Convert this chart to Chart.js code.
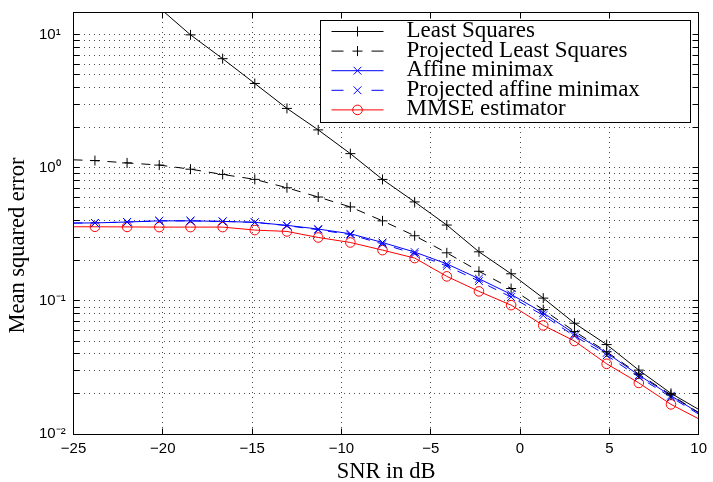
<!DOCTYPE html>
<html>
<head>
<meta charset="utf-8">
<script src="https://cdn.jsdelivr.net/npm/chart.js@4/dist/chart.umd.min.js"></script>
<style>
html, body { margin: 0; padding: 0; background: #fff; }
#wrap { width: 713px; height: 482px; }
</style>
</head>
<body>
<div id="wrap"><canvas id="mse" width="713" height="482"></canvas></div>
<script>
// SNR (dB) where the curves are sampled; first and last sample carry no marker
var snr = [-25, -23.8, -22.0, -20.2, -18.45, -16.65, -14.85, -13.05, -11.3, -9.5, -7.7, -5.9, -4.1, -2.3, -0.5, 1.3, 3.05, 4.85, 6.65, 8.45, 10];

var leastSquares    = [46, 35, 23, 16, 10.0, 6.62, 4.31, 2.80, 1.93, 1.28, 0.819, 0.555, 0.372, 0.234, 0.160, 0.105, 0.068, 0.047, 0.0302, 0.0202, 0.0153];
var projectedLS     = [1.15, 1.135, 1.09, 1.05, 0.978, 0.893, 0.82, 0.709, 0.604, 0.509, 0.400, 0.309, 0.230, 0.167, 0.124, 0.086, 0.059, 0.0415, 0.0282, 0.0197, 0.0145];
var affineMinimax   = [0.385, 0.386, 0.392, 0.40, 0.40, 0.396, 0.39, 0.370, 0.347, 0.320, 0.275, 0.233, 0.190, 0.147, 0.112, 0.0813, 0.0568, 0.0407, 0.0277, 0.0194, 0.0144];
var projectedAffine = [0.385, 0.386, 0.392, 0.40, 0.40, 0.396, 0.39, 0.368, 0.343, 0.315, 0.268, 0.226, 0.183, 0.141, 0.107, 0.078, 0.0545, 0.039, 0.0268, 0.0189, 0.0141];
var mmse            = [0.361, 0.361, 0.360, 0.359, 0.359, 0.359, 0.341, 0.333, 0.300, 0.275, 0.241, 0.210, 0.153, 0.118, 0.093, 0.0655, 0.050, 0.0337, 0.0242, 0.0167, 0.0130];

var labels = ["Least Squares", "Projected Least Squares", "Affine minimax", "Projected affine minimax", "MMSE estimator"];

var xTicks = [-25, -20, -15, -10, -5, 0, 5, 10];
var xTickLabels = ["\u221225", "\u221220", "\u221215", "\u221210", "\u22125", "0", "5", "10"];
var yDecades = [0.01, 0.1, 1, 10];
var yTickLabels = ["10\u207B\u00B2", "10\u207B\u00B9", "10\u2070", "10\u00B9"];

var series = [leastSquares, projectedLS, affineMinimax, projectedAffine, mmse];
var styles = [
    {color: "#000000", dash: [], marker: "cross", r: 5},
    {color: "#000000", dash: [9, 8], marker: "cross", r: 5},
    {color: "#0000ff", dash: [], marker: "crossRot", r: 5.5},
    {color: "#0000ff", dash: [9, 8], marker: "crossRot", r: 5.5},
    {color: "#ff0000", dash: [], marker: "circle", r: 4.8}
];

var datasets = series.map(function (vals, i) {
    var st = styles[i];
    return {
        label: labels[i],
        data: vals.map(function (v, j) { return {x: snr[j], y: v}; }),
        borderColor: st.color,
        borderWidth: 1,
        borderDash: st.dash,
        pointStyle: st.marker,
        pointRadius: function (ctx) {
            return (ctx.dataIndex === 0 || ctx.dataIndex === snr.length - 1) ? 0 : st.r;
        },
        pointBorderColor: st.color,
        pointBackgroundColor: "rgba(0,0,0,0)",
        pointBorderWidth: 1,
        fill: false,
        tension: 0
    };
});

function drawMarker(ctx, style, x, y, r) {
    ctx.beginPath();
    if (style === "cross") {
        ctx.moveTo(x - r, y); ctx.lineTo(x + r, y);
        ctx.moveTo(x, y - r); ctx.lineTo(x, y + r);
    } else if (style === "crossRot") {
        var d = r * Math.SQRT1_2;
        ctx.moveTo(x - d, y - d); ctx.lineTo(x + d, y + d);
        ctx.moveTo(x - d, y + d); ctx.lineTo(x + d, y - d);
    } else {
        ctx.arc(x, y, r, 0, 2 * Math.PI);
    }
    ctx.stroke();
}

// box round the axes, inward ticks on all sides, and the boxed legend
var frame = {
    id: "frame",
    afterDraw: function (chart) {
        var ctx = chart.ctx, a = chart.chartArea;
        var xs = chart.scales.x, ys = chart.scales.y;
        var al = function (v) { return Math.round(v - 0.5) + 0.5; };
        var L = al(a.left), R = al(a.right), T = al(a.top), B = al(a.bottom);
        ctx.save();
        ctx.setLineDash([]);
        ctx.strokeStyle = "#000";
        ctx.lineWidth = 1;
        ctx.beginPath();
        xs.ticks.forEach(function (t) {
            var px = al(xs.getPixelForValue(t.value));
            ctx.moveTo(px, B); ctx.lineTo(px, B - 6);
            ctx.moveTo(px, T); ctx.lineTo(px, T + 6);
        });
        ys.ticks.forEach(function (t) {
            var py = al(ys.getPixelForValue(t.value));
            ctx.moveTo(L, py); ctx.lineTo(L + 6, py);
            ctx.moveTo(R, py); ctx.lineTo(R - 6, py);
        });
        ctx.stroke();
        ctx.strokeRect(L, T, R - L, B - T);

        // legend
        var w = 370, h = 102;
        var lx = al(a.right - 8 - w), ly = al(a.top + 8);
        ctx.fillStyle = "#fff";
        ctx.fillRect(lx, ly, w, h);
        ctx.strokeRect(lx, ly, w, h);
        ctx.font = "23px 'Liberation Serif'";
        ctx.textBaseline = "middle";
        ctx.textAlign = "left";
        labels.forEach(function (lab, i) {
            var st = styles[i];
            var y = ly + 11 + i * 19.6;
            ctx.strokeStyle = st.color;
            ctx.setLineDash(st.dash.length ? [12, 28] : []);
            ctx.beginPath();
            ctx.moveTo(lx + 11, y); ctx.lineTo(lx + 63, y);
            ctx.stroke();
            ctx.setLineDash([]);
            drawMarker(ctx, st.marker, lx + 37, y, st.r);
            ctx.fillStyle = "#000";
            ctx.fillText(lab, lx + 86, y - 0.5);
        });
        ctx.restore();
    }
};

var tickFont = {family: "'Liberation Sans', Arial, sans-serif", size: 15};
var titleFont = {family: "'Liberation Serif', 'Times New Roman', serif", size: 22.5, weight: "normal", lineHeight: 1};

var config = {
    type: "line",
    data: {datasets: datasets},
    options: {
        responsive: false,
        animation: false,
        layout: {padding: {left: 0, top: 9, right: 11, bottom: 0}},
        plugins: {
            legend: {display: false},
            tooltip: {enabled: false},
            title: {
                display: true,
                position: "left",
                text: "Mean squared error",
                color: "#000",
                font: titleFont,
                padding: {top: 6.5, bottom: 10}
            }
        },
        scales: {
            x: {
                type: "linear",
                min: -25,
                max: 10,
                afterFit: function (scale) { scale.height = 48; },
                ticks: {
                    stepSize: 5,
                    autoSkip: false,
                    maxRotation: 0,
                    padding: 6,
                    color: "#000",
                    font: tickFont,
                    callback: function (v) {
                        var i = xTicks.indexOf(v);
                        return i < 0 ? "" : xTickLabels[i];
                    }
                },
                grid: {color: "rgba(0,0,0,0.7)", lineWidth: 1, drawTicks: false},
                border: {display: true, color: "#000", width: 1, dash: [1, 4]},
                title: {display: true, text: "SNR in dB", color: "#000", font: titleFont, padding: {top: 0, bottom: -1}}
            },
            y: {
                type: "logarithmic",
                min: 0.01,
                max: 14.85,
                afterBuildTicks: function (scale) {
                    var t = [];
                    yDecades.forEach(function (d) {
                        for (var k = 1; k <= 9; k++) {
                            if (k * d <= scale.max) t.push({value: k * d, major: k === 1});
                        }
                    });
                    scale.ticks = t;
                },
                afterFit: function (scale) { scale.width = 34.5; },
                ticks: {
                    autoSkip: false,
                    crossAlign: "far",
                    color: "#000",
                    font: tickFont,
                    callback: function (v) {
                        var i = yDecades.indexOf(v);
                        return i < 0 ? "" : yTickLabels[i];
                    }
                },
                grid: {color: "rgba(0,0,0,0.7)", lineWidth: 1, drawTicks: false},
                border: {display: true, color: "#000", width: 1, dash: [1, 4]}
            }
        }
    },
    plugins: [frame]
};

var chart = new Chart(document.getElementById("mse"), config);
</script>
</body>
</html>
